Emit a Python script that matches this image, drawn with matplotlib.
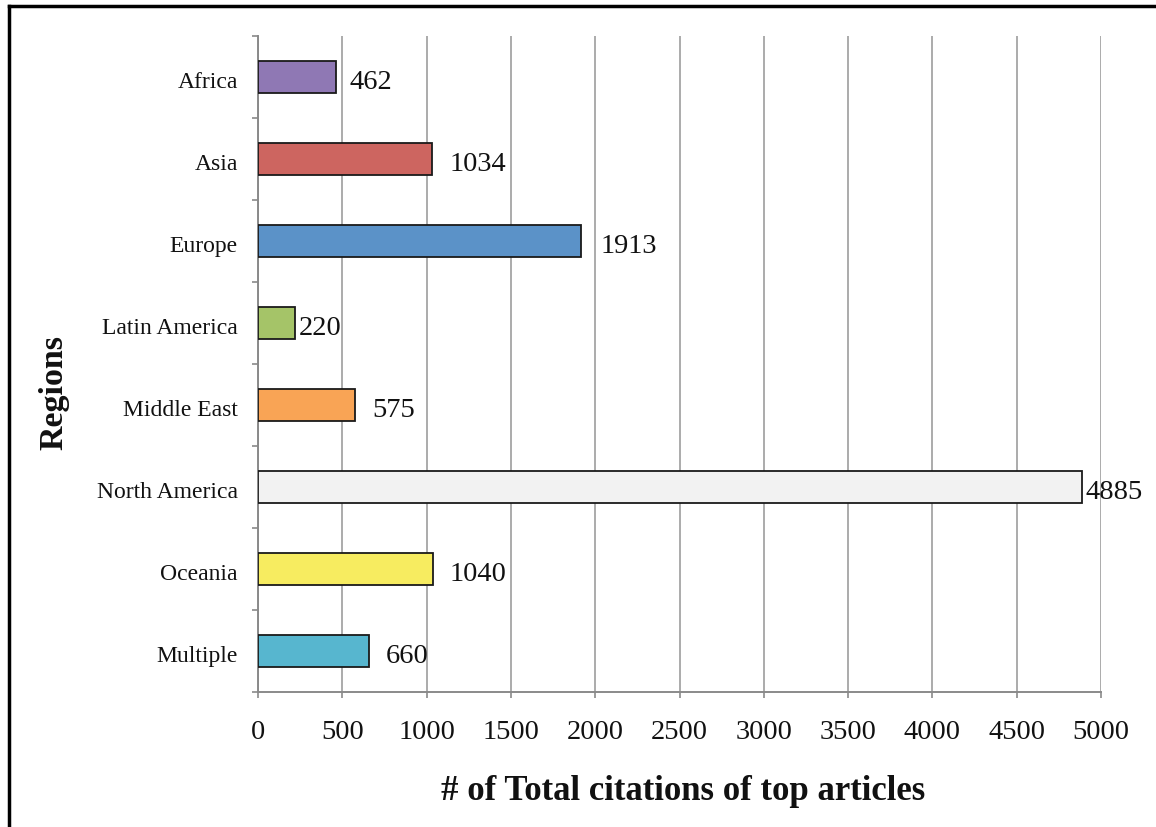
import matplotlib
matplotlib.use("Agg")
import matplotlib.pyplot as plt
import matplotlib.transforms as mtransforms
from matplotlib.lines import Line2D
import numpy as np

regions = ["Africa", "Asia", "Europe", "Latin America", "Middle East",
           "North America", "Oceania", "Multiple"]
citations = [462, 1034, 1913, 220, 575, 4885, 1040, 660]
bar_colors = ["#8f78b4", "#cd6560", "#5b92c8", "#a5c468", "#f9a455",
              "#f2f2f2", "#f7ec60", "#57b6cf"]
label_offsets_px = [14, 17, 20, 4, 17, 4, 16, 16]
x_ticks = [0, 500, 1000, 1500, 2000, 2500, 3000, 3500, 4000, 4500, 5000]

plt.rcParams['font.family'] = ['Liberation Serif', 'DejaVu Serif']

W, H = 1156, 827
fig = plt.figure(figsize=(W / 100, H / 100), dpi=100)
ax = fig.add_axes([258 / W, 1 - 692 / H, (1101 - 258) / W, (692 - 36) / H])

ypos = np.arange(len(regions))
ax.barh(ypos, citations, height=0.4, color=bar_colors, edgecolor="#1a1a1a",
        linewidth=1.3, zorder=3)
ax.set_ylim(len(regions) - 0.5, -0.5)
ax.set_xlim(0, 5000)

for y, v, off in zip(ypos, citations, label_offsets_px):
    ax.annotate(str(v), (v, y), xytext=(off * 0.72, -1.5), textcoords="offset points",
                va="center_baseline", ha="left", fontsize=20.5, color="#111111", zorder=4)

grid_c = "#ababab"
ax.set_xticks(x_ticks)
ax.set_xticklabels([str(t) for t in x_ticks], fontsize=20.5)
ax.xaxis.grid(True, color=grid_c, linewidth=1.4, zorder=0)
ax.set_axisbelow(True)
ax.tick_params(axis="x", length=4.5, width=1.2, color="#8a8a8a", pad=15.5,
               labelcolor="#111111", direction="out")

ax.set_yticks(ypos)
ax.set_yticklabels(regions, fontsize=17)
ax.tick_params(axis="y", which="major", length=0, pad=14.5, labelcolor="#111111")
ax.set_yticks(np.arange(-0.5, len(regions), 1.0), minor=True)
ax.tick_params(axis="y", which="minor", length=4.5, width=1.2, color="#8a8a8a",
               direction="out")
shift = mtransforms.ScaledTranslation(0, -3 / 100, fig.dpi_scale_trans)
for lbl in ax.get_yticklabels():
    lbl.set_transform(lbl.get_transform() + shift)

for s in ["top", "right"]:
    ax.spines[s].set_visible(False)
for s in ["left", "bottom"]:
    ax.spines[s].set_color("#8a8a8a")
    ax.spines[s].set_linewidth(1.4)

fig.text(683 / W, 1 - 792 / H, "# of Total citations of top articles",
         ha="center", va="center", fontsize=25, fontweight="bold", color="#111111")
fig.text(54 / W, 1 - 392 / H, "Regions", rotation=90, ha="center", va="center",
         fontsize=24.5, fontweight="bold", color="#111111")

# outer frame (left and top edges)
fig.add_artist(Line2D([8.5 / W, 8.5 / W], [0, 1 - 6 / H], transform=fig.transFigure,
                      color="black", linewidth=2.5))
fig.add_artist(Line2D([8.5 / W, 1], [1 - 6 / H, 1 - 6 / H], transform=fig.transFigure,
                      color="black", linewidth=2.5))

fig.savefig("out.png", dpi=100, facecolor="white")
